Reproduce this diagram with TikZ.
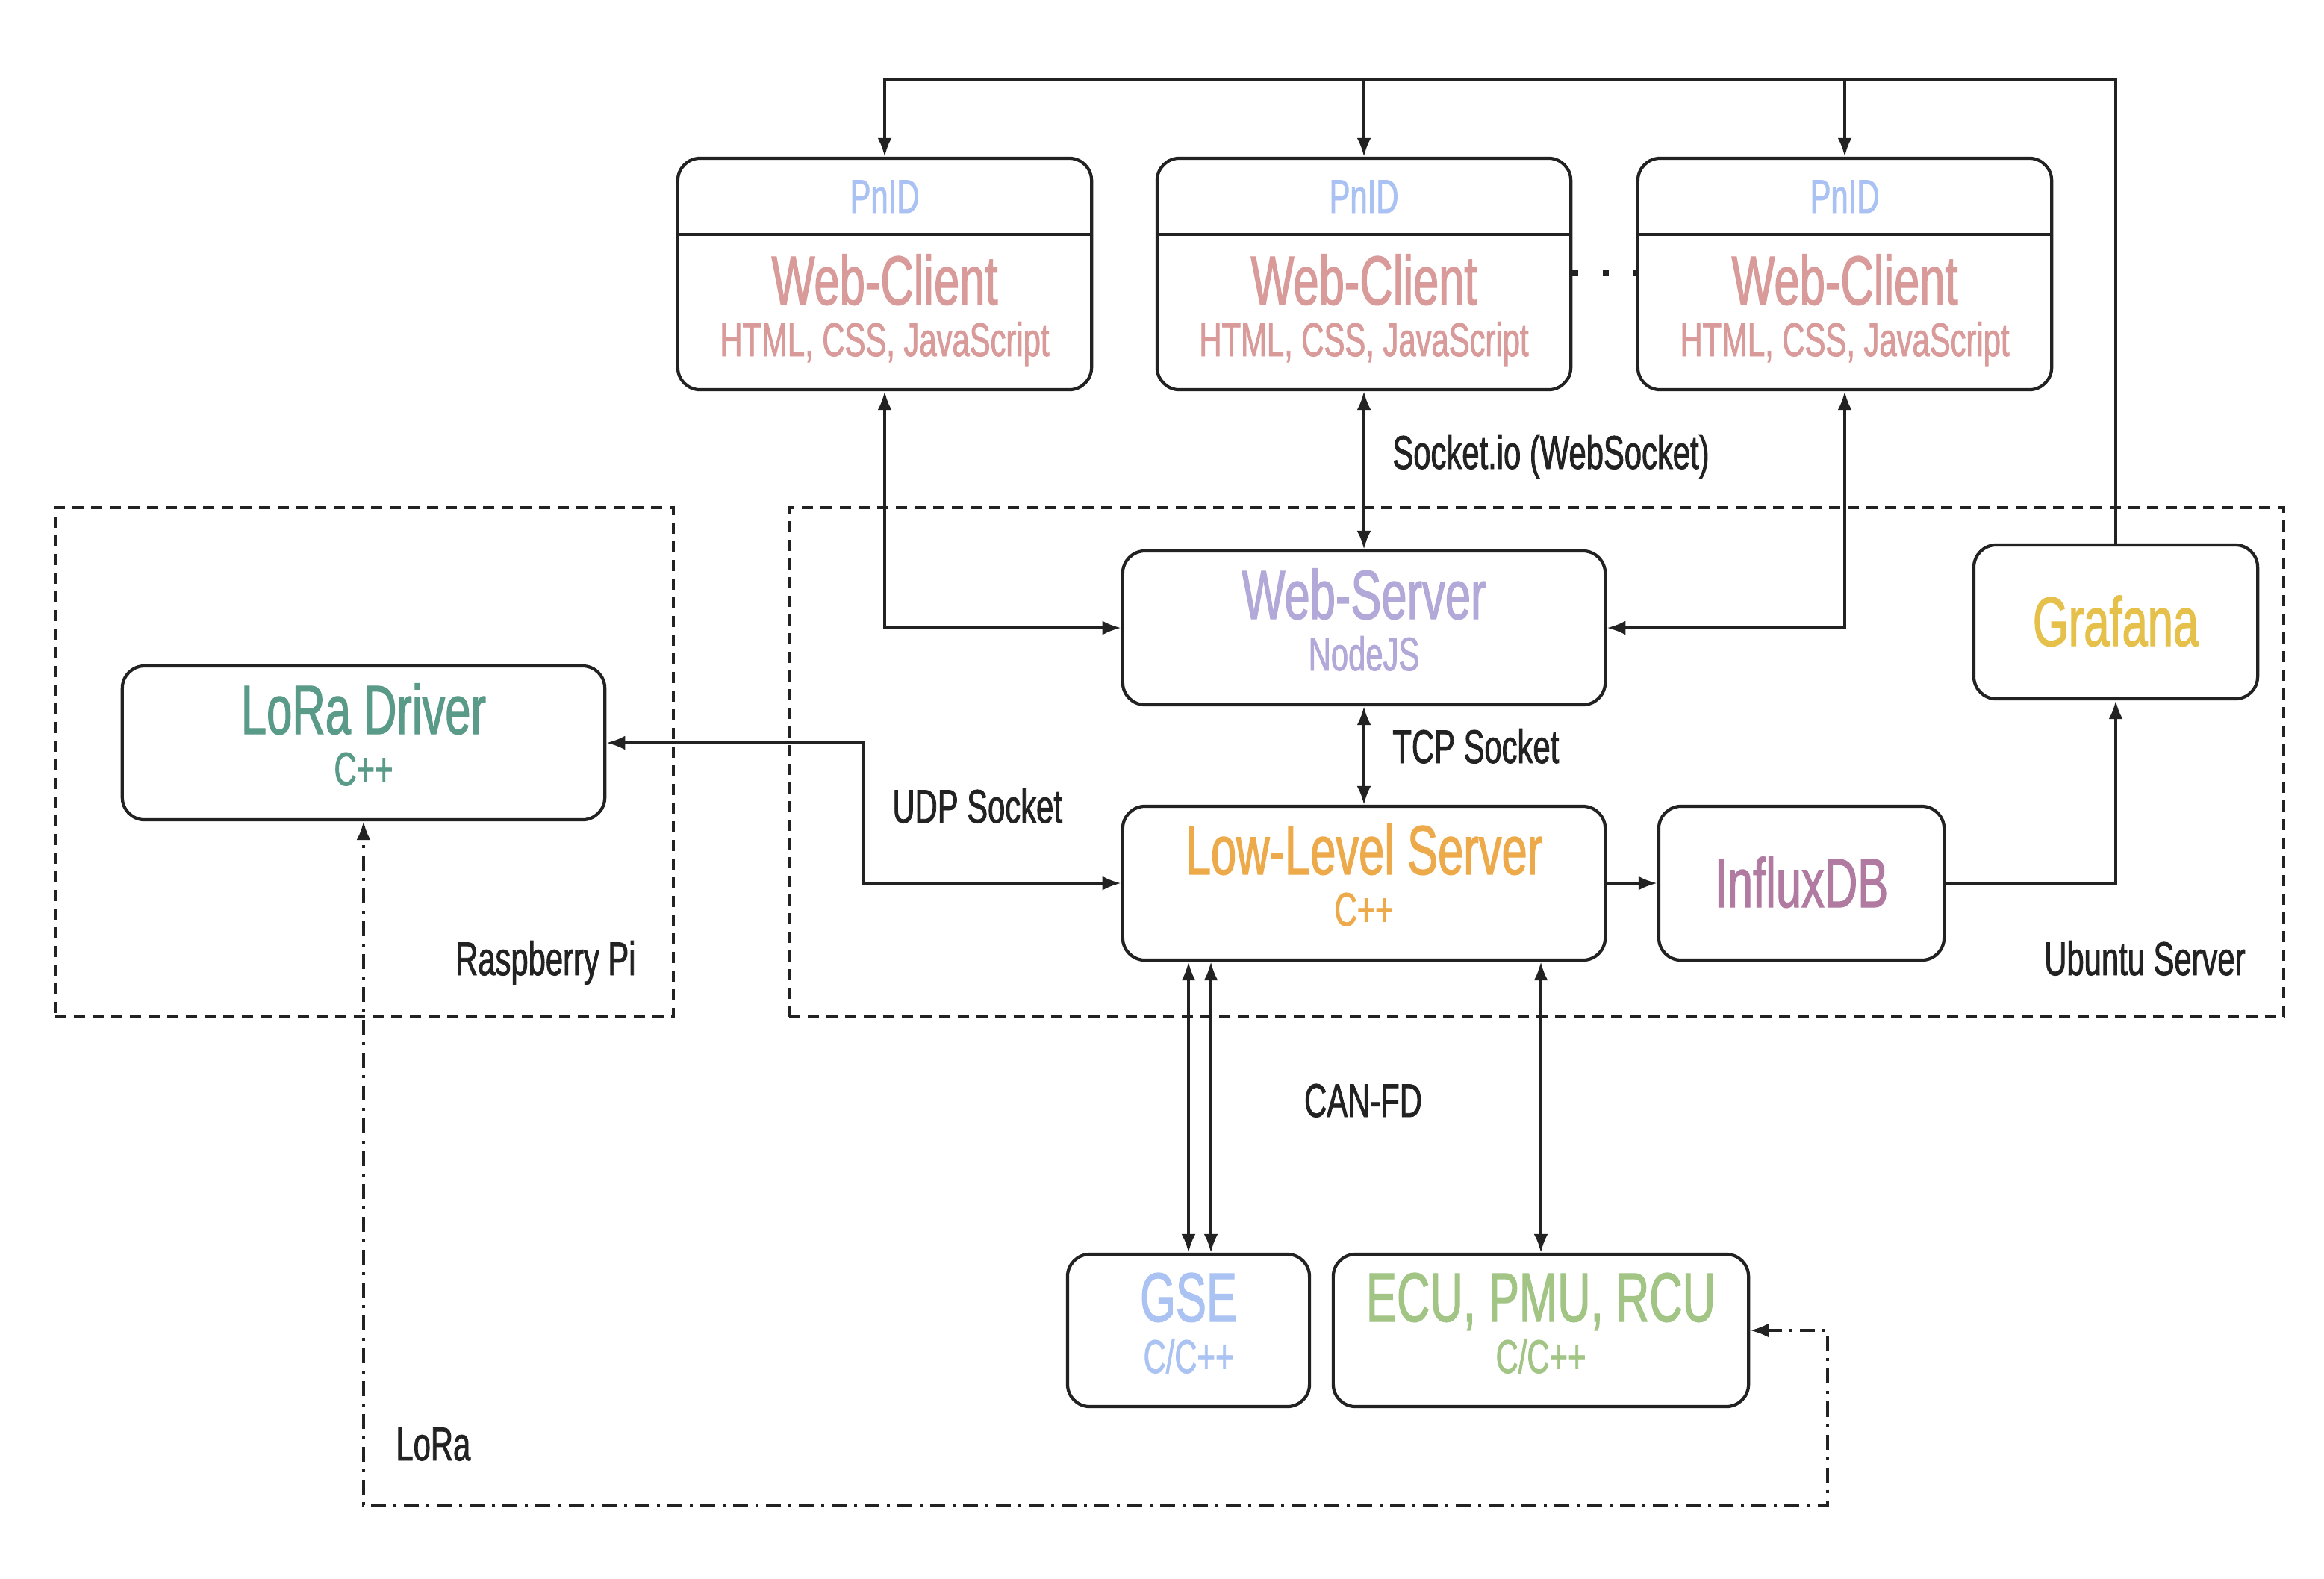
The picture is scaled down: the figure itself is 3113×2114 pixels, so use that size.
\documentclass[tikz,border=0pt]{standalone}
\usepackage{fontspec}
\setmainfont[FakeStretch=0.66, FakeBold=1.3]{Liberation Sans}
\usetikzlibrary{arrows.meta, positioning}
\definecolor{ink}{HTML}{222222}
\definecolor{pnid}{HTML}{A9C2F3}
\definecolor{webclient}{HTML}{D99A9A}
\definecolor{webserver}{HTML}{B3A9D9}
\definecolor{grafana}{HTML}{E5C04A}
\definecolor{lowlevel}{HTML}{EDAA4B}
\definecolor{influx}{HTML}{B07AA1}
\definecolor{loradrv}{HTML}{5A9A88}
\definecolor{gse}{HTML}{ABC3F2}
\definecolor{ecu}{HTML}{A2C585}

\begin{document}
\begin{tikzpicture}[x=0.01cm, y=-0.01cm,
    box/.style={draw=ink, line width=1.2pt, rounded corners=0.3cm, inner sep=0pt, minimum height=2.06cm},
    group/.style={draw=ink, line width=1.1pt, dash pattern=on 0.15cm off 0.1cm, inner sep=0pt},
    title/.style={anchor=base, font=\fontsize{26.5}{29}\selectfont},
    sub/.style={anchor=base, font=\fontsize{18}{20}\selectfont},
    lbl/.style={anchor=base west, text=ink, font=\fontsize{18}{20}\selectfont},
    tip/.tip={Latex[length=0.25cm, width=0.19cm]},
    link/.style={draw=ink, line width=1.1pt, -tip},
    both/.style={link, tip-tip},
    radio/.style={both, dash pattern=on 0.2cm off 0.1cm on 0.04cm off 0.1cm}
]
\useasboundingbox (0,0) rectangle (3113,2114);

% hosts
\node (rpi) [group, minimum width=8.28cm, minimum height=6.82cm] at (488,1021) {};
\node (ubu) [group, minimum width=20cm, minimum height=6.82cm] at (2058,1021) {};
\node (rpiT) [lbl, anchor=base east] at (864,1306) {Raspberry Pi};
\node (ubuT) [lbl, anchor=base east] at (3020,1306) {Ubuntu Server};

% web clients
\foreach \n/\x in {1/1185,2/1827,3/2471} {
    \node (wc\n) [box, minimum width=5.54cm, minimum height=3.10cm] at (\x,367) {};
    \draw[ink, line width=1.2pt] (wc\n.west |- 0,314) -- (wc\n.east |- 0,314);
    \node (pn\n) [sub, text=pnid] at (\x,285) {PnID};
    \node (wt\n) [title, text=webclient] at (\x,408) {Web-Client};
    \node (ws\n) [sub, text=webclient] at (\x,477) {HTML, CSS, JavaScript};
}
\draw[ink, line width=0.08cm, dash pattern=on 0.08cm off 0.33cm] (wc2.east |- 0,366) -- (wc3.west |- 0,366);

% servers
\node (web) [box, minimum width=6.46cm] at (1827,841) {};
\node (webT) [title, text=webserver] at (1827,829) {Web-Server};
\node (webS) [sub, text=webserver] at (1827,898) {NodeJS};

\node (graf) [box, minimum width=3.80cm] at (2834,833) {};
\node (grafT) [title, text=grafana] at (2834,865) {Grafana};

\node (lls) [box, minimum width=6.46cm] at (1827,1183) {};
\node (llsT) [title, text=lowlevel] at (1827,1171) {Low-Level Server};
\node (llsS) [sub, text=lowlevel] at (1827,1240) {C++};

\node (influx) [box, minimum width=3.82cm] at (2413,1183) {};
\node (influxT) [title, text=influx] at (2413,1215) {InfluxDB};

\node (lora) [box, minimum width=6.46cm] at (487,995) {};
\node (loraT) [title, text=loradrv] at (487,983) {LoRa Driver};
\node (loraS) [sub, text=loradrv] at (487,1052) {C++};

% boards
\node (gse) [box, minimum width=3.24cm, minimum height=2.04cm] at (1592,1782) {};
\node (gseT) [title, text=gse] at (1592,1770) {GSE};
\node (gseS) [sub, text=gse] at (1592,1839) {C/C++};

\node (ecu) [box, minimum width=5.56cm, minimum height=2.04cm] at (2064,1782) {};
\node (ecuT) [title, text=ecu] at (2064,1770) {ECU, PMU, RCU};
\node (ecuS) [sub, text=ecu] at (2064,1839) {C/C++};

% connectors
\coordinate (busL) at (1185,106);
\coordinate (busR) at (2834,106);
\draw[link] (graf.north) -- (busR) -- (busL) -- (wc1.north);
\draw[link] (wc2.north |- busL) -- (wc2.north);
\draw[link] (wc3.north |- busL) -- (wc3.north);

\draw[both] (wc1.south) |- (web.west);
\draw[both] (wc2.south) -- (web.north);
\draw[both] (wc3.south) |- (web.east);
\node (sio) [lbl] at (1853,628) {Socket.io (WebSocket)};

\draw[both] (web.south) -- (lls.north);
\node (tcp) [lbl] at (1853,1022) {TCP Socket};

\draw[link] (lls.east) -- (influx.west);
\draw[link] (influx.east) -| (graf.south);

\coordinate (udpbend) at (1156,1183);
\draw[both] (lora.east) -| (udpbend) -- (lls.west);
\node (udp) [lbl] at (1183,1102) {UDP Socket};

\draw[both] (lls.south -| gse.north) -- (gse.north);
\draw[both] ([xshift=0.3cm]lls.south -| gse.north) -- ([xshift=0.3cm]gse.north);
\draw[both] (lls.south -| ecu.north) -- (ecu.north);
\node (can) [lbl, anchor=base] at (1826,1496) {CAN-FD};

\coordinate (radioR) at (2448,2016);
\draw[radio] (ecu.east) -| (radioR) -| (lora.south);
\node (radioT) [lbl] at (518,1956) {LoRa};

\end{tikzpicture}
\end{document}
